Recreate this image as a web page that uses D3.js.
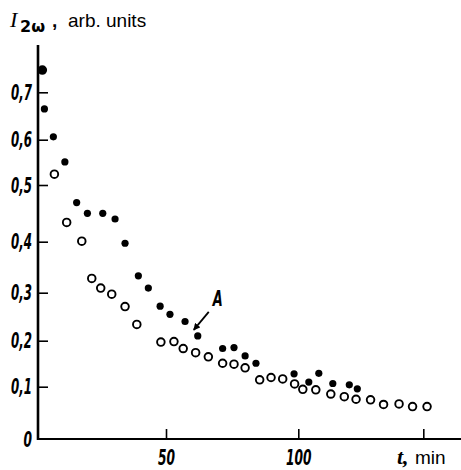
<!DOCTYPE html>
<html>
  <head>
    <meta charset="utf-8">
    <title></title>
    <style>
      body {
        margin: 0;
        background: #fff;
      }
      svg {
        display: block;
      }
      .tick text, .mark {
        font-family: "Liberation Sans Narrow", "DejaVu Sans Condensed", sans-serif;
        font-style: italic;
        font-weight: bold;
        font-size: 22px;
        fill: #000;
      }
      .axis .domain {
        stroke: none;
      }
      .axis line {
        stroke: #000;
        stroke-width: 1.6;
      }
    </style>
  </head>
  <body>
    <div id="chart"></div>
    <script src="https://cdn.jsdelivr.net/npm/d3@7"></script>
    <script>

      // filled dots, curve A
      let filledT = [1.7, 2.5, 6.0, 10.5, 15.1, 19.3, 25.3, 30.1, 34.0, 39.2, 43.1, 47.7, 51.5,
        57.2, 62.0, 71.4, 75.7, 79.9, 84.0, 98.4, 104.2, 108.2, 113.8, 120.4, 123.6];
      let filledI = [0.747, 0.665, 0.606, 0.551, 0.469, 0.450, 0.450, 0.440, 0.397, 0.333, 0.309, 0.272, 0.255,
        0.240, 0.210, 0.183, 0.185, 0.167, 0.151, 0.128, 0.110, 0.129, 0.107, 0.104, 0.096];

      // open circles
      let openT = [1.7, 6.4, 11.2, 17.1, 21.0, 24.5, 28.8, 34.0, 38.6, 48.0, 53.0, 56.5, 61.2, 66.0,
        71.4, 75.7, 79.9, 85.4, 89.7, 94.1, 98.6, 101.8, 107.0, 113.0, 118.4, 123.1, 128.9, 134.1,
        140.3, 145.7, 151.5];
      let openI = [0.747, 0.524, 0.434, 0.401, 0.328, 0.309, 0.297, 0.271, 0.234, 0.197, 0.198, 0.183, 0.174, 0.165,
        0.151, 0.149, 0.141, 0.115, 0.120, 0.117, 0.106, 0.095, 0.094, 0.086, 0.081, 0.076, 0.075, 0.066,
        0.067, 0.062, 0.062];

      let yTicks = [0, 0.1, 0.2, 0.3, 0.4, 0.5, 0.6, 0.7];
      let xTicks = [50, 100, 150];
      let xTickLabels = ["50", "100", ""];
      let markA = 14; // index of the filled point labelled A

      let W = 461, H = 470;

      let svg = d3.select('#chart').append('svg')
        .attr('width', W)
        .attr('height', H);

      // the original scales are hand drawn, so the tick spacing is uneven
      let x = d3.scaleLinear()
        .domain([0, 50, 100, 150])
        .range([38, 166, 298.3, 423.3]);

      let y = d3.scaleLinear()
        .domain(yTicks)
        .range([439, 386.7, 340.7, 292.7, 241.7, 185, 139.7, 92.3]);

      let fmt = d => d === 0 ? "0" : String(d).replace(".", ",");

      // squeeze the labels to the narrow typeface of the original
      let narrow = s => s.replace(/[^0-9]/g, "").length * 8.5 + s.replace(/[0-9]/g, "").length * 4;

      let gy = svg.append("g")
        .attr('class', 'axis axis-left')
        .attr("transform", "translate(" + x(0) + ",0)")
        .call(d3.axisLeft(y).tickValues(yTicks).tickSize(-10).tickPadding(6).tickFormat(fmt));
      gy.selectAll('.tick').filter(d => d === 0).select('line').remove();
      gy.selectAll('.tick text')
        .attr('textLength', function() { return narrow(this.textContent); })
        .attr('lengthAdjust', 'spacingAndGlyphs');

      let gx = svg.append("g")
        .attr('class', 'axis axis-bottom')
        .attr("transform", "translate(0," + y(0) + ")")
        .call(d3.axisBottom(x).tickValues(xTicks).tickSize(-10).tickPadding(10)
          .tickFormat((d, i) => xTickLabels[i]));
      gx.selectAll('.tick text')
        .filter(function() { return this.textContent !== ""; })
        .attr('textLength', function() { return narrow(this.textContent); })
        .attr('lengthAdjust', 'spacingAndGlyphs');

      // axis lines
      svg.append("line")
        .attr("x1", x(0)).attr("x2", x(0))
        .attr("y1", 45).attr("y2", y(0) + 1)
        .attr("stroke", "#000").attr("stroke-width", 2.6);

      svg.append("line")
        .attr("x1", x(0) - 1).attr("x2", W)
        .attr("y1", y(0)).attr("y2", y(0))
        .attr("stroke", "#000").attr("stroke-width", 2.2);

      // points
      svg.append("g")
        .selectAll("circle")
        .data(d3.zip(openT, openI))
        .join("circle")
        .attr("cx", d => x(d[0]))
        .attr("cy", d => y(d[1]))
        .attr("r", 3.8)
        .attr("fill", "#fff")
        .attr("stroke", "#000")
        .attr("stroke-width", 1.9);

      svg.append("g")
        .selectAll("circle")
        .data(d3.zip(filledT, filledI))
        .join("circle")
        .attr("cx", d => x(d[0]))
        .attr("cy", d => y(d[1]))
        .attr("r", 3.6)
        .attr("fill", "#000");

      // label A with arrow
      let ax = x(filledT[markA]), ay = y(filledI[markA]);

      svg.append("defs").append("marker")
        .attr("id", "head")
        .attr("viewBox", "0 0 10 10")
        .attr("refX", 9).attr("refY", 5)
        .attr("markerWidth", 7).attr("markerHeight", 7)
        .attr("markerUnits", "userSpaceOnUse")
        .attr("orient", "auto")
        .append("path")
        .attr("d", "M0,0L10,5L0,10z")
        .attr("fill", "#000");

      svg.append("line")
        .attr("x1", ax + 11).attr("y1", ay - 24)
        .attr("x2", ax - 4).attr("y2", ay - 6)
        .attr("stroke", "#000").attr("stroke-width", 1.8)
        .attr("marker-end", "url(#head)");

      svg.append("text")
        .attr("class", "mark")
        .attr("x", ax + 15).attr("y", ay - 30)
        .attr("textLength", 10)
        .attr("lengthAdjust", "spacingAndGlyphs")
        .text("A");

      // axis titles
      let yTitle = svg.append("text")
        .attr("x", 10).attr("y", 27)
        .style("font-family", '"Liberation Sans", sans-serif')
        .style("font-size", "19px");
      yTitle.append("tspan")
        .style("font-family", '"Liberation Serif", serif')
        .style("font-style", "italic")
        .style("font-size", "22px")
        .text("I");
      yTitle.append("tspan")
        .attr("x", 20)
        .attr("dy", 5)
        .style("font-family", '"DejaVu Sans", sans-serif')
        .style("font-weight", "bold")
        .style("font-size", "16px")
        .text("2ω");
      yTitle.append("tspan")
        .attr("x", 52)
        .attr("dy", -5)
        .style("font-weight", "bold")
        .text(",");
      yTitle.append("tspan")
        .attr("x", 68)
        .text("arb. units");

      let xTitle = svg.append("text")
        .attr("x", 397).attr("y", 464)
        .style("font-family", '"Liberation Sans", sans-serif')
        .style("font-size", "19px");
      xTitle.append("tspan")
        .style("font-family", '"Liberation Serif", serif')
        .style("font-style", "italic")
        .style("font-weight", "bold")
        .style("font-size", "22px")
        .text("t,");
      xTitle.append("tspan")
        .attr("x", 415)
        .text("min");

    </script>
  </body>
</html>
